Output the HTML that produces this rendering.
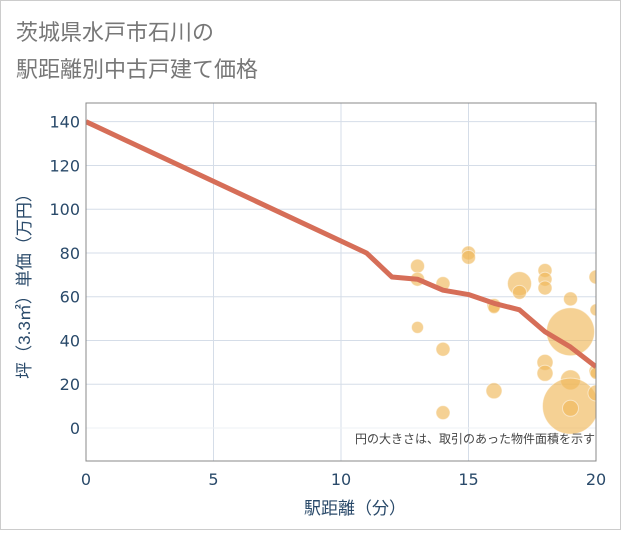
<!DOCTYPE html>
<html><head><meta charset="utf-8"><style>
body{margin:0;background:#fff;font-family:"Liberation Sans","Noto Sans CJK JP",sans-serif}
</style></head><body>
<svg width="621" height="530" xmlns="http://www.w3.org/2000/svg" font-family="Liberation Sans, Noto Sans CJK JP, sans-serif">
<rect x="0.5" y="0.5" width="620" height="529" fill="#fff" stroke="#ccc"/>
<text x="16" y="40" font-size="22" fill="#777">茨城県水戸市石川の</text>
<text x="16" y="77" font-size="22" fill="#777">駅距離別中古戸建て価格</text>
<g id="grid"></g>
<defs><clipPath id="pc"><rect x="86" y="103" width="510" height="358"/></clipPath></defs>
<g id="bubbles" clip-path="url(#pc)"></g>
<g id="line" clip-path="url(#pc)"></g>
<rect x="86" y="103" width="510" height="358" fill="none" stroke="#888"/>
<g id="axes" font-family="DejaVu Sans, sans-serif"></g>
<text x="595" y="443" font-size="12" fill="#444" text-anchor="end">円の大きさは、取引のあった物件面積を示す</text>
<text x="355" y="514" font-size="17" fill="#2a4a6a" text-anchor="middle">駅距離（分）</text>
<text transform="translate(30,282) rotate(-90)" font-size="17" fill="#2a4a6a" text-anchor="middle">坪（3.3㎡）単価（万円）</text>
</svg>
<script>
const xTicks=[0,5,10,15,20];
const yTicks=[0,20,40,60,80,100,120,140];
const lineX=[0,11,12,13,14,15,16,17,18,19,20];
const lineY=[140,80,69,68,63,61,57,54,44,37,28];
const bubX=[13,13,13,14,14,14,15,15,16,16,16,17,17,18,18,18,18,18,19,19,19,19,19,20,20,20,20,20];
const bubY=[74,68,46,66,36,7,80,78,56,55,17,66,62,72,68,64,30,25,59,44,22,10,9,69,54,26,25,16];
const bubR=[7,7,6,7,7,7,7,7,7,6,8,12,7,7,7,7,8,8,7,24,10,28,8,7,6,7,6,8];
const X=v=>86+v*25.5, Y=v=>428-v*2.188;
const NS="http://www.w3.org/2000/svg";
function mk(t,a,p){const e=document.createElementNS(NS,t);for(const k in a)e.setAttribute(k,a[k]);p.appendChild(e);return e;}
const g=document.getElementById('grid'),ax=document.getElementById('axes');
xTicks.forEach(t=>{const l=mk('line',{x1:X(t),x2:X(t),y1:103,y2:461,stroke:'#d5dde8'},g);


const tx=mk('text',{x:X(t),y:485,'font-size':16,fill:'#2a4a6a','text-anchor':'middle'},ax);tx.textContent=t;

});
yTicks.forEach(t=>{const l=mk('line',{x1:86,x2:596,y1:Y(t),y2:Y(t),stroke:t===0?'#eef1f5':'#d5dde8'},g);


const tx=mk('text',{x:80,y:Y(t)+6,'font-size':16,fill:'#2a4a6a','text-anchor':'end'},ax);tx.textContent=t;

});
const bg=document.getElementById('bubbles');
bubX.forEach((x,i)=>{const c=mk('circle',{cx:X(x),cy:Y(bubY[i]),r:bubR[i],fill:'#f0b85a','fill-opacity':0.65,stroke:'#fff','stroke-opacity':0.5},bg);

});
const p=mk('polyline',{points:lineX.map((x,i)=>X(x)+','+Y(lineY[i])).join(' '),fill:'none',stroke:'#d66e58','stroke-width':5,'stroke-linejoin':'round'},document.getElementById('line'));


</script>
</body></html>
